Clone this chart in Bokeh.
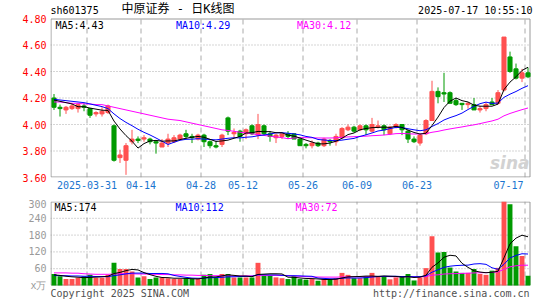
import numpy as np
import pandas as pd
from bokeh.plotting import figure
from bokeh.layouts import column
from bokeh.models import FixedTicker, Label, Range1d, ColumnDataSource, PrintfTickFormatter
from bokeh.embed import file_html
from bokeh.resources import INLINE

# ---------------- data ----------------
symbol = "sh601375"
title_cn = "中原证券 - 日K线图"
timestamp = "2025-07-17 10:55:10"

opens = [4.20, 4.13, 4.11, 4.12, 4.12, 4.14, 4.12, 4.08, 4.08, 4.09,
         3.99, 3.75, 3.73, 3.87, 3.89, 3.89, 3.89, 3.87, 3.83, 3.86,
         3.87, 3.89, 3.93, 3.91, 3.89, 3.92, 3.87, 3.84, 3.85, 4.05,
         3.93, 3.95, 3.93, 3.99, 3.92, 3.99, 3.93, 3.90, 3.91, 3.93,
         3.93, 3.89, 3.85, 3.84, 3.86, 3.84, 3.88, 3.87, 3.90, 3.96,
         3.98, 3.96, 3.99, 3.95, 3.98, 3.99, 3.93, 3.98, 4.00, 3.95,
         3.89, 3.86, 3.93, 4.03, 4.25, 4.24, 4.24, 4.18, 4.16, 4.15,
         4.15, 4.11, 4.12, 4.17, 4.16, 4.26, 4.51, 4.42, 4.35, 4.39]
highs = [4.23, 4.15, 4.14, 4.16, 4.16, 4.16, 4.12, 4.10, 4.13, 4.15,
         4.00, 3.81, 3.86, 3.96, 3.91, 3.92, 3.90, 3.88, 3.89, 3.93,
         3.92, 3.93, 3.96, 3.93, 3.93, 3.93, 3.88, 3.87, 3.93, 4.06,
         3.97, 3.96, 3.97, 4.00, 4.08, 4.00, 3.95, 3.93, 3.93, 3.95,
         3.93, 3.90, 3.86, 3.88, 3.87, 3.90, 3.89, 3.93, 3.98, 4.00,
         3.99, 4.00, 4.00, 4.05, 4.03, 4.00, 3.99, 4.01, 4.00, 3.96,
         3.91, 3.93, 4.04, 4.33, 4.28, 4.39, 4.25, 4.20, 4.16, 4.17,
         4.20, 4.14, 4.17, 4.20, 4.26, 4.66, 4.55, 4.46, 4.42, 4.43]
lows = [4.11, 4.06, 4.08, 4.11, 4.09, 4.10, 4.05, 4.06, 4.06, 4.08,
        3.72, 3.71, 3.62, 3.85, 3.86, 3.87, 3.85, 3.78, 3.83, 3.83,
        3.86, 3.88, 3.89, 3.86, 3.88, 3.83, 3.82, 3.82, 3.83, 3.92,
        3.90, 3.87, 3.89, 3.92, 3.89, 3.92, 3.87, 3.86, 3.89, 3.89,
        3.89, 3.84, 3.82, 3.82, 3.83, 3.83, 3.84, 3.84, 3.89, 3.95,
        3.94, 3.95, 3.92, 3.94, 3.97, 3.92, 3.92, 3.97, 3.92, 3.86,
        3.86, 3.84, 3.92, 4.03, 4.16, 4.17, 4.16, 4.14, 4.11, 4.12,
        4.11, 4.09, 4.10, 4.15, 4.15, 4.25, 4.39, 4.34, 4.32, 4.35]
closes = [4.13, 4.12, 4.13, 4.14, 4.15, 4.13, 4.07, 4.09, 4.10, 4.14,
          3.73, 3.77, 3.84, 3.89, 3.88, 3.90, 3.87, 3.86, 3.86, 3.89,
          3.90, 3.92, 3.91, 3.90, 3.92, 3.87, 3.84, 3.83, 3.92, 3.95,
          3.94, 3.91, 3.96, 3.93, 4.00, 3.93, 3.91, 3.92, 3.93, 3.91,
          3.89, 3.84, 3.84, 3.86, 3.84, 3.89, 3.87, 3.91, 3.97, 3.98,
          3.95, 3.99, 3.96, 4.00, 3.99, 3.96, 3.98, 4.00, 3.96, 3.89,
          3.87, 3.92, 4.03, 4.25, 4.21, 4.23, 4.16, 4.15, 4.15, 4.16,
          4.11, 4.12, 4.15, 4.15, 4.24, 4.66, 4.40, 4.35, 4.39, 4.36]
volumes = [41, 33, 23, 23, 28, 33, 38, 28, 28, 38,
           81, 59, 59, 50, 29, 33, 23, 29, 29, 26,
           23, 23, 26, 23, 23, 38, 41, 29, 41, 41,
           29, 29, 29, 29, 81, 35, 35, 29, 26, 23,
           33, 23, 21, 23, 17, 23, 23, 26, 45, 38,
           26, 26, 33, 45, 33, 33, 22, 29, 33, 41,
           18, 29, 62, 176, 118, 120, 64, 50, 45, 45,
           59, 41, 38, 53, 63, 300, 290, 140, 105, 35]

# moving-average values at the left edge (they depend on days before the window)
ma5_head = [4.185, 4.175, 4.165, 4.155]
ma10_head = [4.19, 4.185, 4.18, 4.175, 4.17, 4.165, 4.155, 4.145, 4.135]
ma30_head = [4.17, 4.17, 4.165, 4.16, 4.16, 4.155, 4.155, 4.15, 4.15, 4.14,
             4.13, 4.12, 4.11, 4.10, 4.09, 4.08, 4.07, 4.06, 4.05, 4.04,
             4.035, 4.03, 4.02, 4.01, 4.00, 3.99, 3.98, 3.97, 3.96]
vma5_head = [38, 36, 33, 31]
vma10_head = [36, 35, 35, 34, 34, 33, 33, 32, 32]
vma30_head = [45, 45, 45, 44, 44, 42, 41, 40, 40, 40,
              41, 42, 42, 42, 41, 41, 40, 40, 39, 39,
              38, 38, 37, 37, 36, 36, 35, 35, 35]

tick_idx = [6, 15, 25, 32, 42, 51, 61, 79]
tick_labels = ["2025-03-31", "04-14", "04-28", "05-12", "05-26", "06-09", "06-23", "07-17"]
price_ticks = [3.60, 3.80, 4.00, 4.20, 4.40, 4.60, 4.80]
vol_ticks = [0, 60, 120, 180, 240, 300]
vol_unit = "x万"
copyright_text = "Copyright 2025 SINA.COM"
site_text = "http://finance.sina.com.cn"

# ---------------- styling ----------------
UP = "#ff5050"
DOWN = "#009a00"
GRID = "#aaaaaa"
BORDER = "#999999"
MONO = "DejaVu Sans Mono"
N = len(closes)

W = 545
LEFT, RIGHT = 50, 3                      # frame runs to x=542; the panel box ends at x=530
PANEL_W = 480
PH, PANEL_TOP, PBOT = 198, 18, 21        # price panel box from y=18 to y=177
VH, VTOP, VPANEL_H = 102, 3, 84          # volume panel box 84 px tall
slot = PANEL_W / N

colors = []
for i, (o, c) in enumerate(zip(opens, closes)):
    if c > o:
        colors.append(UP)
    elif c < o:
        colors.append(DOWN)
    else:
        prev = closes[i - 1] if i else c
        colors.append(UP if c >= prev else DOWN)


def moving(vals, n, head):
    out = pd.Series(vals, dtype=float).rolling(n).mean().to_numpy()
    out[:len(head)] = head
    return out


ma5 = moving(closes, 5, ma5_head)
ma10 = moving(closes, 10, ma10_head)
ma30 = moving(closes, 30, ma30_head)
vma5 = moving(volumes, 5, vma5_head)
vma10 = moving(volumes, 10, vma10_head)
vma30 = moving(volumes, 30, vma30_head)

x = np.arange(N)
src = ColumnDataSource(dict(
    x=x, top=np.maximum(opens, closes), bottom=np.minimum(opens, closes),
    high=highs, low=lows, color=colors, vol=volumes,
    ma5=ma5, ma10=ma10, ma30=ma30, vma5=vma5, vma10=vma10, vma30=vma30))

x_start = -0.5 - 1 / 12
x_panel_end = N - 0.5 - 1 / 12
xr = Range1d(x_start, x_start + (W - LEFT - RIGHT) / slot)
p_lo, p_hi = price_ticks[0], price_ticks[-1]
v_lo, v_hi = vol_ticks[0], vol_ticks[-1]
p_scale = (PH - PANEL_TOP - PBOT) / (p_hi - p_lo)      # px per price unit
v_scale = VPANEL_H / (v_hi - v_lo)                      # px per volume unit
p_top_ext = p_hi + PANEL_TOP / p_scale                  # frame reaches the canvas top
v_bot_ext = v_lo - (VH - VTOP - VPANEL_H) / v_scale     # frame reaches the canvas bottom


def X(ref_x):
    return x_start + (ref_x - LEFT) / slot


def PY(ref_y):
    return p_hi - (ref_y - PANEL_TOP) / p_scale


def VY(ref_y):
    return v_hi - (ref_y - PH - VTOP) / v_scale


def style(fig, lo, hi, yscale):
    fig.outline_line_color = None
    fig.background_fill_color = "white"
    fig.border_fill_color = "white"
    for ax in fig.axis:
        ax.axis_line_color = None
        ax.major_tick_line_color = None
        ax.minor_tick_line_color = None
        ax.major_tick_out = 0
        ax.major_tick_in = 0
        ax.major_label_text_font = MONO
        ax.major_label_text_font_size = "10px"
    fig.xgrid.visible = False
    fig.ygrid.visible = False
    # dotted level lines inside the panel box
    levels = [t for t in fig.yaxis[0].ticker.ticks if lo < t < hi]
    fig.segment(x0=[x_start] * len(levels), y0=levels, x1=[x_panel_end] * len(levels), y1=levels,
                line_color=GRID, line_dash="1 2", line_width=1)
    # dashed date separators
    xs = [i - 0.5 for i in tick_idx]
    fig.segment(x0=xs, y0=[lo] * len(xs), x1=xs, y1=[hi] * len(xs),
                line_color=GRID, line_dash="5 4", line_width=1)
    # panel box
    fig.quad(left=x_start + 0.5 / slot, right=x_panel_end - 0.5 / slot,
             bottom=lo + 0.5 / yscale, top=hi - 0.5 / yscale,
             fill_color=None, line_color=BORDER, line_width=1)


# ---------------- price panel ----------------
p = figure(width=W, height=PH, x_range=xr, y_range=Range1d(p_lo, p_top_ext),
           output_backend="svg", toolbar_location=None,
           min_border_left=LEFT, min_border_right=RIGHT,
           min_border_top=0, min_border_bottom=PBOT)
p.yaxis.ticker = FixedTicker(ticks=price_ticks)
p.yaxis.formatter = PrintfTickFormatter(format="%.2f")
style(p, p_lo, p_hi, p_scale)
p.yaxis.major_label_text_color = "#ff0000"
p.yaxis.major_label_standoff = 4

label_pos = [min(i - 0.5, N - 4.25) for i in tick_idx]
p.xaxis.ticker = FixedTicker(ticks=label_pos)
p.xaxis.major_label_overrides = {pos: lab for pos, lab in zip(label_pos, tick_labels)}
p.xaxis.major_label_text_color = "#1a75cf"
p.xaxis.major_label_standoff = 3

p.segment(x0="x", y0="high", x1="x", y1="low", color="color", line_width=1, source=src)
p.vbar(x="x", width=0.68, top="top", bottom="bottom", fill_color="color",
       line_color="color", line_width=1, source=src)
p.line("x", "ma30", color="#ff00ff", line_width=1, source=src)
p.line("x", "ma10", color="#0000ff", line_width=1, source=src)
p.line("x", "ma5", color="#000000", line_width=1, source=src)

p.add_layout(Label(x=X(50), y=PY(15.5), text=symbol, text_font=MONO,
                   text_font_size="10px", text_color="#000000"))
p.add_layout(Label(x=X(121), y=PY(15.5), text=title_cn,
                   text_font="DejaVu Sans Mono, Noto Sans CJK SC",
                   text_font_size="12px", text_color="#000000"))
p.add_layout(Label(x=X(532), y=PY(15.5), text=timestamp, text_font=MONO,
                   text_font_size="10px", text_color="#000000", text_align="right"))
for lx, name, vals, col in [(55, "MA5", ma5, "#000000"), (175.5, "MA10", ma10, "#0000ff"),
                            (296.5, "MA30", ma30, "#ff00ff")]:
    p.add_layout(Label(x=X(lx), y=PY(19.5), text=f"{name}:{vals[-1]:.2f}", text_font=MONO,
                       text_font_size="10px", text_color=col, text_baseline="top"))
p.add_layout(Label(x=X(529), y=PY(172), text="sina", text_font="DejaVu Sans",
                   text_font_style="bold italic", text_font_size="17px",
                   text_color="#d2d2d2", text_align="right"))

# ---------------- volume panel ----------------
q = figure(width=W, height=VH, x_range=xr, y_range=Range1d(v_bot_ext, v_hi),
           output_backend="svg", toolbar_location=None,
           min_border_left=LEFT, min_border_right=RIGHT,
           min_border_top=VTOP, min_border_bottom=0)
q.yaxis.ticker = FixedTicker(ticks=vol_ticks)
style(q, v_lo, v_hi, v_scale)
q.xaxis.visible = False
q.yaxis.major_label_overrides = {vol_ticks[0]: vol_unit}
q.yaxis.major_label_text_color = "#999999"
q.yaxis.major_label_standoff = 4

q.vbar(x="x", width=0.82, top="vol", bottom=0, fill_color="color", line_color=None, source=src)
q.line("x", "vma30", color="#ff00ff", line_width=1, source=src)
q.line("x", "vma10", color="#0000ff", line_width=1, source=src)
q.line("x", "vma5", color="#000000", line_width=1, source=src)

for lx, name, vals, col in [(54, "MA5", vma5, "#000000"), (175, "MA10", vma10, "#0000ff"),
                            (295, "MA30", vma30, "#ff00ff")]:
    q.add_layout(Label(x=X(lx), y=VY(201.5), text=f"{name}:{vals[-1]:.0f}", text_font=MONO,
                       text_font_size="10px", text_color=col, text_baseline="top"))
q.add_layout(Label(x=X(50), y=VY(287), text=copyright_text, text_font=MONO,
                   text_font_size="10px", text_color="#505050", text_baseline="top"))
q.add_layout(Label(x=X(529), y=VY(287), text=site_text, text_font=MONO,
                   text_font_size="10px", text_color="#505050", text_baseline="top",
                   text_align="right"))

layout = column(p, q, spacing=0)
open("out.html", "w").write(file_html(layout, INLINE))
